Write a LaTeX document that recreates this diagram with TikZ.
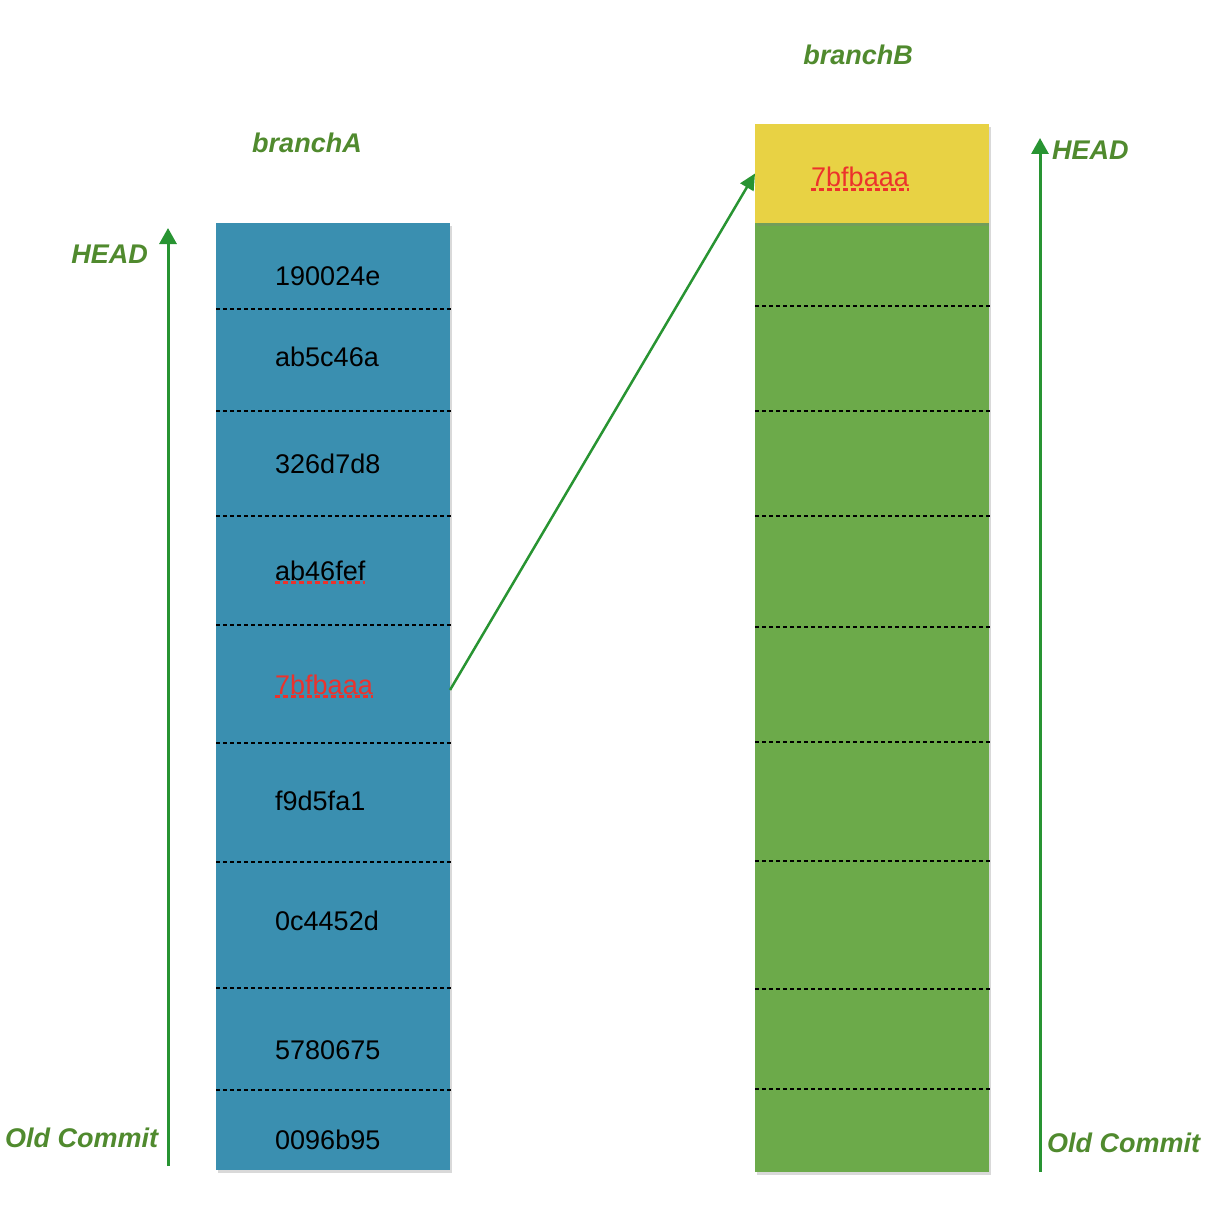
\documentclass[tikz,border=0pt]{standalone}
\usepackage{fontspec}
\setmainfont{Liberation Sans}
\usetikzlibrary{arrows.meta,shadows}

\definecolor{cellblue}{RGB}{58,143,176}
\definecolor{cellgreen}{RGB}{108,170,74}
\definecolor{cellyellow}{RGB}{232,210,68}
\definecolor{labelgreen}{RGB}{80,138,46}
\definecolor{arrowgreen}{RGB}{40,148,50}
\definecolor{typored}{RGB}{236,50,44}

\tikzset{
  cell/.style={rectangle, inner sep=0pt, outer sep=0pt, minimum width=234pt,
    drop shadow={opacity=0.3, shadow xshift=1.5pt, shadow yshift=-3pt}},
  hash/.style={anchor=base west, inner sep=0pt, font=\fontsize{27}{32}\selectfont},
  tag/.style={inner sep=0pt, text=labelgreen, font=\fontsize{27}{32}\selectfont\bfseries\itshape},
  divider/.style={black, line width=1.5pt, dash pattern=on 4pt off 3pt},
  squiggle/.style={typored, line width=3.5pt, dash pattern=on 5pt off 3pt},
  timeline/.style={arrowgreen, line width=3pt, -{Triangle[width=17pt,length=16pt]}}
}

\begin{document}
\begin{tikzpicture}[x=1pt,y=-1pt]
  \useasboundingbox (0,0) rectangle (1214,1206);

  % branchA column
  \node[cell, fill=cellblue, minimum height=86pt]  (a1) at (333,266) {};
  \node[cell, fill=cellblue, minimum height=102pt] (a2) at (333,360) {};
  \node[cell, fill=cellblue, minimum height=105pt] (a3) at (333,463.5) {};
  \node[cell, fill=cellblue, minimum height=109pt] (a4) at (333,570.5) {};
  \node[cell, fill=cellblue, minimum height=118pt] (a5) at (333,684) {};
  \node[cell, fill=cellblue, minimum height=119pt] (a6) at (333,802.5) {};
  \node[cell, fill=cellblue, minimum height=126pt] (a7) at (333,925) {};
  \node[cell, fill=cellblue, minimum height=102pt] (a8) at (333,1039) {};
  \node[cell, fill=cellblue, minimum height=80pt]  (a9) at (333,1130) {};

  % dividers between commits
  \foreach \c in {a1,a2,a3,a4,a5,a6,a7,a8}
    \draw[divider] (\c.south west) -- ([xshift=2pt]\c.south east);

  % commit hashes
  \node[hash] (h1) at (275,285) {190024e};
  \node[hash] (h2) at (275,366) {ab5c46a};
  \node[hash] (h3) at (275,473) {326d7d8};
  \node[hash] (h4) at (275,580) {ab46fef};
  \node[hash, text=typored] (h5) at (275,694) {7bfbaaa};
  \node[hash] (h6) at (275,810) {f9d5fa1};
  \node[hash] (h7) at (275,930) {0c4452d};
  \node[hash] (h8) at (275,1059) {5780675};
  \node[hash] (h9) at (275,1149) {0096b95};
  \draw[squiggle] ([yshift=-2pt]h4.south west) -- ([yshift=-2pt]h4.south east);
  \draw[squiggle] ([yshift=-2pt]h5.south west) -- ([yshift=-2pt]h5.south east);

  % branchB column
  \node[cell, fill=cellgreen, minimum height=83pt]  (b1) at (872,264.5) {};
  \node[cell, fill=cellgreen, minimum height=105pt] (b2) at (872,358.5) {};
  \node[cell, fill=cellgreen, minimum height=105pt] (b3) at (872,463.5) {};
  \node[cell, fill=cellgreen, minimum height=111pt] (b4) at (872,571.5) {};
  \node[cell, fill=cellgreen, minimum height=115pt] (b5) at (872,684.5) {};
  \node[cell, fill=cellgreen, minimum height=119pt] (b6) at (872,801.5) {};
  \node[cell, fill=cellgreen, minimum height=128pt] (b7) at (872,925) {};
  \node[cell, fill=cellgreen, minimum height=100pt] (b8) at (872,1039) {};
  \node[cell, fill=cellgreen, minimum height=83pt]  (b9) at (872,1130.5) {};
  \node[cell, fill=cellyellow, minimum height=99pt] (b0) at (872,173.5) {};

  \foreach \c in {b1,b2,b3,b4,b5,b6,b7,b8}
    \draw[divider] (\c.south west) -- ([xshift=2pt]\c.south east);

  % picked commit
  \node[hash, text=typored] (p1) at (811,187) {7bfbaaa};
  \draw[squiggle] ([yshift=-2pt]p1.south west) -- ([yshift=-2pt]p1.south east);
  \draw[arrowgreen, line width=2.5pt, -{Triangle[width=15pt,length=16pt]}]
    ([yshift=-6pt]a5.east) -- (b0.west);

  % time direction
  \coordinate (oldA) at (168,1166);
  \coordinate (headA) at (168,228);
  \coordinate (oldB) at (1040,1172);
  \coordinate (headB) at (1040,138);
  \draw[timeline] (oldA) -- (headA);
  \draw[timeline] (oldB) -- (headB);

  % labels
  \node[tag, anchor=base] (nameA) at (307,153) {branchA};
  \node[tag, anchor=base] (nameB) at (858,65) {branchB};
  \node[tag, anchor=base east] (topA) at (148,263) {HEAD};
  \node[tag, anchor=base west] (topB) at (1052,160) {HEAD};
  \node[tag, anchor=base west] (endA) at (5,1147) {Old Commit};
  \node[tag, anchor=base west] (endB) at (1047,1152) {Old Commit};
\end{tikzpicture}
\end{document}
